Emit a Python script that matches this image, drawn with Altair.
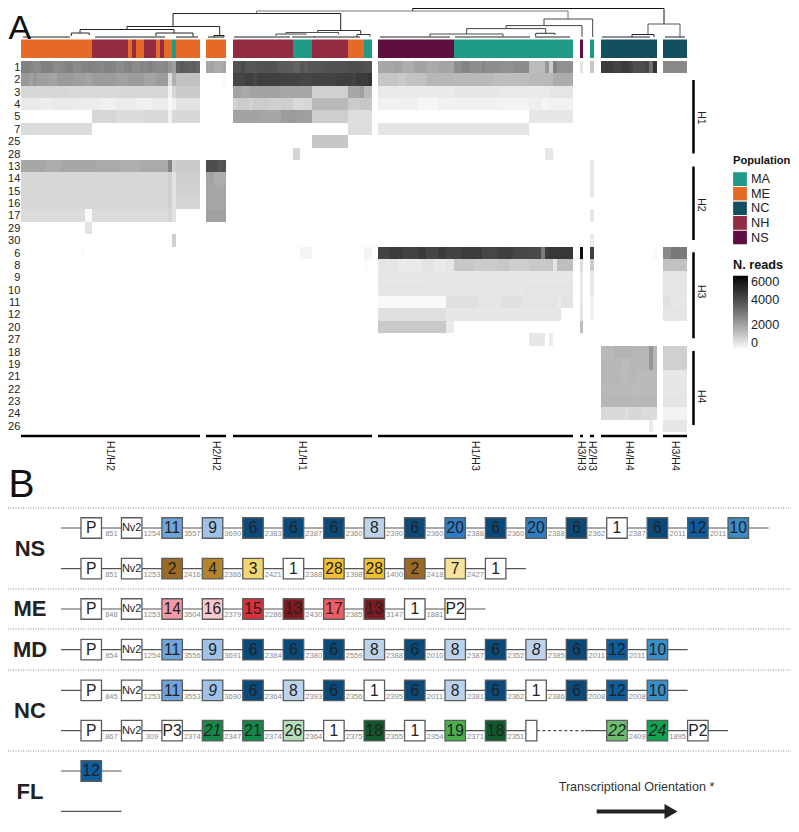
import altair as alt
import pandas as pd

FONT = "Liberation Sans"

# ---------- A: heat map ----------
ROWS = ["1","2","3","4","5","7","25","28","13","14","15","16","17","29","30","6","8","9","10","11","12","20","27","18","19","21","22","23","24","26"]
CLUSTER_NAMES = ["H1/H2","H2/H2","H1/H1","H1/H3","H3/H3","H2/H3","H4/H4","H3/H4"]
CLUSTER_START = [21, 206.5, 233, 378.3, 579.5, 590, 601, 663]
CLUSTER_COLS = [45, 5, 35, 49, 1, 1, 14, 6]
CLUSTER_LABEL_X = [110, 216, 302, 475, 581, 592, 629, 675]

POPS = [
    [("ME",18),("NH",9),("ME",1),("NH",1),("ME",2),("NH",3),("ME",1),("NH",1),("ME",2),("MA",1),("ME",6)],
    [("ME",5)],
    [("NH",15),("MA",5),("NH",9),("ME",4),("MA",2)],
    [("NS",19),("MA",30)],
    [("NS",1)],
    [("MA",1)],
    [("NC",14)],
    [("NC",6)],
]
POP_NAMES = ["MA","ME","NC","NH","NS"]
POP_COLORS = ["#1f9a86","#e56a25","#134f5e","#912c41","#5e0f3f"]

C1 = {
 "1": [(2750,1),(2800,1),(2700,1),(2550,2),(2800,2),(2750,1),(2550,2),(2600,1),(2750,2),(2550,2),(2700,2),(2750,1),(2700,2),(2600,1),(2750,2),(2700,1),(2550,2),(2700,1),(2750,1),(2550,2),(2700,1),(2600,1),(2750,1),(2600,1),(2550,2),(2600,1),(2300,1),(2100,1),(3500,1),(3700,1),(3600,1),(3500,1),(3600,1),(3400,1)],
 "2": [(2250,2),(2050,1),(2250,1),(2100,3),(2000,2),(2200,4),(2100,3),(2000,2),(2150,6),(2050,3),(2150,4),(2000,3),(2150,3),(700,1),(1700,1),(1300,6)],
 "3": [(850,12),(800,13),(850,12),(300,1),(900,1),(1100,6)],
 "4": [(450,5),(380,3),(450,6),(400,6),(320,4),(400,5),(320,4),(400,4),(150,1),(300,1),(600,6)],
 "5": [(0,18),(850,6),(750,7),(800,6),(300,1),(800,1),(850,6)],
 "7": [(750,18)],
 "13": [(1900,6),(1800,4),(1900,9),(1850,6),(1750,5),(1850,7),(2700,1),(1000,1),(1100,6)],
 "14": [(850,37),(1000,1),(600,1),(1050,6)],
 "15": [(850,37),(1000,1),(600,1),(1000,6)],
 "16": [(850,37),(1000,1),(600,1),(900,6)],
 "17": [(750,16),(100,2),(750,19),(900,1),(600,1)],
 "29": [(0,16),(600,2)],
 "30": [(0,38),(1000,1)],
 "6": [(0,15),(60,1)],
}
C2 = {
 "1": [(1900,1),(2000,1),(1800,2),(1900,1)],
 "2": [(0,4),(100,1)],
 "13": [(4000,3),(3800,1),(3900,1)],
 "14": [(2000,2),(1800,3)],
 "15": [(1900,5)],
 "16": [(1900,5)],
 "17": [(2050,5)],
}
C3 = {
 "1": [(3900,2),(4100,1),(3800,3),(3900,5),(3700,4),(3500,2),(3800,1),(3600,1),(3800,4),(3900,6),(4000,4),(3900,2)],
 "2": [(4200,3),(4400,2),(4200,1),(4400,6),(4300,5),(4200,3),(4300,6),(4400,4),(4300,1),(4500,3),(4700,1)],
 "3": [(2000,2),(1850,2),(2000,8),(1900,8),(1000,9),(1900,3),(2100,1),(1500,2)],
 "4": [(950,1),(1100,3),(950,1),(1100,4),(1000,3),(1050,3),(800,3),(900,2),(1500,9),(1100,3),(1200,3)],
 "5": [(2000,7),(1900,5),(2150,4),(2100,4),(1050,9),(700,6)],
 "7": [(0,29),(700,6)],
 "25": [(0,20),(1200,9)],
 "28": [(0,15),(900,2)],
 "6": [(0,17),(200,3),(0,13),(200,2)],
 "8": [(0,33),(100,1)],
}
C4 = {
 "1": [(1900,4),(2000,2),(1800,3),(2000,3),(1850,3),(1950,4),(2500,2),(2700,2),(2500,3),(2650,1),(2500,4),(2400,3),(2550,4),(1450,4),(2300,1),(1100,1),(2800,1),(2400,4)],
 "2": [(1250,5),(1150,2),(1300,5),(1550,7),(1500,10),(1400,9),(1500,6),(1800,5)],
 "3": [(450,19),(500,12),(450,12),(550,6)],
 "4": [(280,5),(300,5),(180,5),(280,6),(300,9),(250,8),(350,3),(200,2),(280,6)],
 "5": [(0,38),(500,11)],
 "7": [(550,38)],
 "28": [(0,42),(500,2)],
 "6": [(4300,3),(4500,3),(4300,4),(4500,2),(4200,3),(4500,2),(4300,4),(4500,5),(4200,4),(4400,4),(4200,4),(4100,3),(2900,1),(4500,1),(4600,6)],
 "8": [(550,5),(450,6),(600,3),(450,3),(550,2),(1200,5),(1100,6),(1200,3),(1050,5),(1150,5),(1200,1),(550,1),(1400,4)],
 "9": [(500,49)],
 "10": [(550,13),(500,24),(550,12)],
 "11": [(120,17),(650,8),(550,6),(650,5),(550,9),(450,1),(600,3)],
 "12": [(650,17),(500,29)],
 "20": [(1150,17),(450,2)],
 "27": [(0,38),(500,4),(0,1),(400,1)],
}
C5 = {"1":[(600,1)],"6":[(5800,1)],"8":[(700,1)],"9":[(500,1)],"10":[(500,1)],"11":[(500,1)],"12":[(600,1)],"20":[(1400,1)]}
C6 = {"1":[(1200,1)],"13":[(500,1)],"14":[(500,1)],"15":[(500,1)],"17":[(500,1)],"30":[(450,1)],"6":[(4400,1)],"8":[(1100,1)],"9":[(500,1)],"10":[(500,1)],"11":[(300,1)],"12":[(300,1)]}
C7 = {
 "1": [(4500,3),(4300,2),(4500,2),(4300,1),(4000,3),(4200,1),(3200,1),(4700,1)],
 "6": [(0,13),(100,1)],
 "18": [(1500,3),(1650,5),(1550,4),(2300,1),(1600,1)],
 "19": [(1550,5),(1450,2),(1550,5),(2300,1),(1600,1)],
 "21": [(1550,5),(1480,2),(1550,2),(1480,2),(1500,3)],
 "22": [(1500,8),(1450,2),(1500,4)],
 "23": [(1550,14)],
 "24": [(800,6),(700,1),(850,3),(750,4)],
 "26": [(0,12),(450,1)],
}
C8 = {
 "1": [(2600,6)],
 "6": [(2600,2),(3000,2),(2900,2)],
 "8": [(1300,6)],
 "9": [(550,6)],"10": [(550,6)],"11": [(650,2),(500,4)],"12": [(550,6)],
 "18": [(1000,6)],"19": [(1000,6)],
 "21": [(500,6)],"22": [(500,6)],"23": [(550,6)],"24": [(250,6)],"26": [(500,6)],
}
CLUSTER_VALUES = [C1, C2, C3, C4, C5, C6, C7, C8]

# ---------- A: dendrogram: left, right, height, left drop, right drop, colour ----------
TREE_NODES = [
 (412.7,664,8.5,11,24,"#111111"),
 (256.6,568,11,13.5,19,"#777777"),
 (173,340.7,13.5,26.5,30.5,"#222222"),
 (127,219.7,26.5,29.5,35.5,"#222222"),
 (80,174,29.5,33,33,"#222222"),
 (71.3,89.3,33,36,35,"#222222"),
 (156,193,33,36,36.5,"#222222"),
 (214,224,35.5,37.5,37,"#222222"),
 (317.7,360.7,30.5,32.5,34,"#333333"),
 (286,338.7,32.5,34,34.5,"#555555"),
 (276,306,34,36,35,"#444444"),
 (357,370,34.5,37,36.5,"#333333"),
 (544,592.7,19,25.6,37,"#444444"),
 (506,582,25.6,28.6,37,"#444444"),
 (466.7,545.7,28.6,34,33.3,"#444444"),
 (430,503,34,36.5,36.5,"#444444"),
 (535.7,555,33.3,36,35,"#333333"),
 (648,680,24,35,37,"#555555"),
 (632,654,34.5,37,37,"#222222"),
]
TREE_FLOOR = [(23,70),(95,120),(120,165),(176,198),(208,224),(234,290),(292,315),(314,360),(380,450),(455,530),(535,570),(602,650),(665,685)]

# ---------- A: right-hand groups ----------
GROUP_NAMES = ["H1","H2","H3","H4"]
GROUP_TOP = [80,166.5,252.3,351]
GROUP_BOTTOM = [153.5,240,338.3,425]
GROUP_MID = [118,205,291.7,396.7]

# ---------- B: gene arrays ----------
GENE_COLORS = {
 "P":"#ffffff","Nv2":"#ffffff","P2":"#ffffff","P3":"#ffffff","1":"#ffffff","":"#ffffff",
 "11":"#6fa5dc","9":"#9fc3e8","6":"#0a4a7a","8":"#bdd3ea","20":"#2f7cc6","12":"#0d5c9e","10":"#3a8dc7",
 "2":"#9a6a26","4":"#b58428","3":"#f3d66f","28":"#f2c02f","7":"#f6e29c",
 "14":"#f29aa8","16":"#fac9d0","15":"#d8303a","13":"#7c1a20","17":"#ef5c63",
 "21":"#128a46","26":"#b5dfbb","18":"#0f5a2b","19":"#4aae4b","22":"#6cbd6e","24":"#10a34f",
}
NS1_GENES = ["P","Nv2","11","9","6","6","6","8","6","20","6","20","6","1","6","12","10"]
NS1_GAPS = [851,1254,3557,3690,2383,2387,2360,2390,2360,2388,2360,2388,2362,2387,2011,2011]
NS2_GENES = ["P","Nv2","2","4","3","1","28","28","2","7","1"]
NS2_GAPS = [851,1253,2416,2386,2421,2388,1398,1400,2418,2427]
ME_GENES = ["P","Nv2","14","16","15","13","17","13","1","P2"]
ME_GAPS = [848,1253,3504,2379,2286,2430,2385,3147,1881]
MD_GENES = ["P","Nv2","11","9","6","6","6","8","6","8","6","8i","6","12","10"]
MD_GAPS = [854,1254,3556,3691,2384,2380,2559,2388,2010,2387,2352,2385,2011,2011]
NC1_GENES = ["P","Nv2","11","9i","6","8","6","1","6","8","6","1","6","12","10"]
NC1_GAPS = [845,1253,3553,3690,2364,2393,2356,2395,2011,2381,2362,2386,2008,2008]
NC2_GENES = ["P","Nv2","P3","21i","21","26","1","18","1","19","18","","-","22i","24i","P2"]
NC2_GAPS = [867,309,2374,2347,2374,2364,2375,2355,2354,2371,2351,None,None,2409,1895]
FL_GENES = ["12"]
FL_GAPS = []
LOCI = [
 (NS1_GENES,NS1_GAPS,528),(NS2_GENES,NS2_GAPS,568.7),(ME_GENES,ME_GAPS,609),
 (MD_GENES,MD_GAPS,649.7),(NC1_GENES,NC1_GAPS,690.3),(NC2_GENES,NC2_GAPS,730.7),(FL_GENES,FL_GAPS,771),
]
GROUP_LABELS = ["NS","ME","MD","NC","FL"]
GROUP_LABEL_Y = [549,609,649.5,710.7,792]
SEPARATORS = [508,589,629,670,751]

# ---------- scales: page pixels ----------
XS = alt.Scale(domain=[8,791], range=[0,783], nice=False, zero=False)
YS = alt.Scale(domain=[8,824], range=[0,816], nice=False, zero=False)
def X(f="x"): return alt.X(f"{f}:Q", scale=XS, axis=None)
def Y(f="y"): return alt.Y(f"{f}:Q", scale=YS, axis=None)
def X2(f="x2"): return alt.X2(f"{f}:Q")
def Y2(f="y2"): return alt.Y2(f"{f}:Q")

COL_W, ROW_H, ROW_TOP = 3.97, 12.37, 61
def row_top(i): return round(ROW_TOP + i*ROW_H)
def col_left(c, j): return round(CLUSTER_START[c] + j*COL_W)

heat, annot = [], []
for c, table in enumerate(CLUSTER_VALUES):
    for rname, runs in table.items():
        i = ROWS.index(rname); j = 0
        for v, n in runs:
            for _ in range(n):
                if v > 0:
                    heat.append(dict(x=col_left(c,j), x2=col_left(c,j+1), y=row_top(i), y2=row_top(i+1), reads=v, row=rname, cluster=CLUSTER_NAMES[c]))
                j += 1
    j = 0
    for p, n in POPS[c]:
        annot.append(dict(x=col_left(c,j), x2=col_left(c,j+n), y=39.5, y2=58, pop=p))
        j += n

heat_layer = alt.Chart(pd.DataFrame(heat)).mark_rect().encode(
    x=X(), x2=X2(), y=Y(), y2=Y2(),
    color=alt.Color("reads:Q",
        scale=alt.Scale(domain=[0,2000,4000,6000], range=["#ffffff","#a3a3a3","#4e4e4e","#000000"]),
        legend=alt.Legend(title="N. reads", orient="none", legendX=725, legendY=251, direction="vertical",
            gradientLength=74, gradientThickness=15, values=[0,2000,4000,6000], format="d", labelFont=FONT, labelFontSize=12.7,
            labelBaseline="middle", labelColor="#222222", titleFont=FONT, titleFontSize=12.7, titleFontWeight="bold", titleColor="#111111",
            titlePadding=4, gradientStrokeWidth=0, labelOffset=3)))

annot_layer = alt.Chart(pd.DataFrame(annot)).mark_rect().encode(
    x=X(), x2=X2(), y=Y(), y2=Y2(),
    color=alt.Color("pop:N", scale=alt.Scale(domain=POP_NAMES, range=POP_COLORS),
        legend=alt.Legend(title="Population", orient="none", legendX=725, legendY=147, symbolType="square",
            symbolSize=190, symbolStrokeWidth=0, labelFont=FONT, labelFontSize=12.7, labelColor="#222222",
            titleFont=FONT, titleFontSize=11.1, titleFontWeight="bold", titleColor="#111111",
            rowPadding=0.6, labelOffset=4, titlePadding=6, clipHeight=14)))

row_labels = alt.Chart(pd.DataFrame([dict(x=20.3, y=row_top(i)+6.5, t=r) for i, r in enumerate(ROWS)])).mark_text(
    align="right", baseline="middle", font=FONT, fontSize=11, color="#222222").encode(x=X(), y=Y(), text="t:N")

seg = []
for l, r, h, dl, dr, col in TREE_NODES:
    seg += [dict(x=l,x2=r,y=h,y2=h,c=col), dict(x=l,x2=l,y=h,y2=dl,c=col), dict(x=r,x2=r,y=h,y2=dr,c=col)]
for l, r in TREE_FLOOR:
    seg.append(dict(x=l,x2=r,y=37,y2=37,c="#222222"))
tree_layer = alt.Chart(pd.DataFrame(seg)).mark_rule(strokeWidth=1).encode(
    x=X(), x2=X2(), y=Y(), y2=Y2(), color=alt.Color("c:N", scale=None))

clbar = pd.DataFrame([dict(x=col_left(c,0), x2=col_left(c,CLUSTER_COLS[c]), y=436, y2=436, lx=CLUSTER_LABEL_X[c], ly=441, t=CLUSTER_NAMES[c]) for c in range(8)])
clbar_layer = alt.Chart(clbar).mark_rule(strokeWidth=2.5, color="#000000").encode(x=X(), x2=X2(), y=Y(), y2=Y2())
cl_text = alt.Chart(clbar).mark_text(angle=90, align="left", baseline="middle", font=FONT, fontSize=10.5, color="#222222").encode(
    x=X("lx"), y=Y("ly"), text="t:N")

grp = pd.DataFrame([dict(x=693.5, x2=693.5, y=GROUP_TOP[k], y2=GROUP_BOTTOM[k], lx=701, ly=GROUP_MID[k], t=GROUP_NAMES[k]) for k in range(4)])
grp_layer = alt.Chart(grp).mark_rule(strokeWidth=2.5, color="#000000").encode(x=X(), x2=X2(), y=Y(), y2=Y2())
grp_text = alt.Chart(grp).mark_text(angle=90, align="center", baseline="middle", font=FONT, fontSize=10.5, color="#222222").encode(
    x=X("lx"), y=Y("ly"), text="t:N")

tick_rows = []
for v in [2000,4000,6000]:
    yy = 350.6 - v/2000*24.3
    tick_rows += [dict(x=733,x2=736,y=yy,y2=yy), dict(x=744.7,x2=747.7,y=yy,y2=yy)]
tick_layer = alt.Chart(pd.DataFrame(tick_rows)).mark_rule(strokeWidth=1, color="#ffffff").encode(x=X(), x2=X2(), y=Y(), y2=Y2())

panel_text = (alt.Chart(pd.DataFrame([dict(x=8.5,y=38.8,t="A")])).mark_text(align="left", baseline="alphabetic", font=FONT, fontSize=34, color="#111111").encode(x=X(), y=Y(), text="t:N")
  + alt.Chart(pd.DataFrame([dict(x=8.5,y=497,t="B")])).mark_text(align="left", baseline="alphabetic", font=FONT, fontSize=39, color="#111111").encode(x=X(), y=Y(), text="t:N"))

# ---------- B ----------
X0, PITCH, BOX = 81, 40.44, 20.5
def bx(i): return X0 + PITCH*i
lines, dotted, boxes, gaps = [], [], [], []
for genes, gaps_, yc in LOCI:
    n = len(genes)
    if "-" in genes:
        k = genes.index("-")
        lines.append(dict(x=61, x2=bx(k-1)+11, y=yc, y2=yc))
        dotted.append(dict(x=bx(k-1)+11, x2=585, y=yc, y2=yc))
        lines.append(dict(x=585, x2=bx(n-1)+40.5, y=yc, y2=yc))
    else:
        lines.append(dict(x=61, x2=bx(n-1)+40.5, y=yc, y2=yc))
    for i, g in enumerate(genes):
        if g == "-":
            continue
        name = g[:-1] if g.endswith("i") else g
        w = 11 if g == "" else BOX
        boxes.append(dict(x=bx(i), x2=bx(i)+w, y=yc-BOX/2, y2=yc+BOX/2, fill=GENE_COLORS[name],
                          t=name, cx=bx(i)+BOX/2, cy=yc+0.3, fs=11 if name=="Nv2" else 15.7, it=g.endswith("i")))
    for i, v in enumerate(gaps_):
        if v is not None:
            gaps.append(dict(x=bx(i)+BOX+(PITCH-BOX)/2, y=yc+6.3, t=str(v)))
lines.append(dict(x=61, x2=121.5, y=811.3, y2=811.3))

bdf = pd.DataFrame(boxes)
line_layer = alt.Chart(pd.DataFrame(lines)).mark_rule(strokeWidth=1.2, color="#555555").encode(x=X(), x2=X2(), y=Y(), y2=Y2())
dot_layer = alt.Chart(pd.DataFrame(dotted)).mark_rule(strokeWidth=1.2, color="#555555", strokeDash=[3,2.5]).encode(x=X(), x2=X2(), y=Y(), y2=Y2())
box_layer = alt.Chart(bdf).mark_rect(stroke="#5c5c5c", strokeWidth=1.3).encode(
    x=X(), x2=X2(), y=Y(), y2=Y2(), color=alt.Color("fill:N", scale=None))
txt = bdf[bdf.t != ""]
box_text = alt.Chart(txt[~txt["it"]]).mark_text(align="center", baseline="middle", font=FONT, color="#222222").encode(
    x=X("cx"), y=Y("cy"), text="t:N", size=alt.Size("fs:Q", scale=None))
box_itext = alt.Chart(txt[txt["it"]]).mark_text(align="center", baseline="middle", font=FONT, fontStyle="italic", color="#222222").encode(
    x=X("cx"), y=Y("cy"), text="t:N", size=alt.Size("fs:Q", scale=None))
gap_text = alt.Chart(pd.DataFrame(gaps)).mark_text(align="center", baseline="middle", font=FONT, fontSize=7.6, color="#8a8a8a").encode(
    x=X(), y=Y(), text="t:N")
sep_layer = alt.Chart(pd.DataFrame([dict(x=8,x2=791,y=s,y2=s) for s in SEPARATORS])).mark_rule(strokeWidth=1, color="#888888", strokeDash=[1,1.5]).encode(
    x=X(), x2=X2(), y=Y(), y2=Y2())
group_text = alt.Chart(pd.DataFrame([dict(x=30, y=GROUP_LABEL_Y[k], t=GROUP_LABELS[k]) for k in range(5)])).mark_text(
    align="center", baseline="middle", font=FONT, fontSize=22, fontWeight="bold", color="#222222").encode(x=X(), y=Y(), text="t:N")
orient_text = alt.Chart(pd.DataFrame([dict(x=636.5, y=787, t="Transcriptional Orientation *")])).mark_text(
    align="center", baseline="middle", font=FONT, fontSize=12.6, color="#333333").encode(x=X(), y=Y(), text="t:N")
arrow = alt.Chart(pd.DataFrame([dict(x=596.7,x2=666,y=811.6,y2=811.6)])).mark_rule(strokeWidth=4, color="#222222").encode(x=X(), x2=X2(), y=Y(), y2=Y2())
arrow_head = alt.Chart(pd.DataFrame([dict(x=671, y=811.6)])).mark_point(shape="triangle-right", filled=True, size=225, opacity=1, color="#222222").encode(x=X(), y=Y())

chart = alt.layer(
    tree_layer, annot_layer, heat_layer, tick_layer, row_labels, clbar_layer, cl_text, grp_layer, grp_text, panel_text,
    sep_layer, line_layer, dot_layer, box_layer, box_text, box_itext, gap_text, group_text, orient_text, arrow, arrow_head,
).resolve_scale(color="independent").properties(
    width=783, height=816, padding=0, autosize=alt.AutoSizeParams(type="none"), background="#ffffff"
).configure_view(stroke=None)

chart.save("out.html", embed_options={"renderer": "svg", "actions": False})
